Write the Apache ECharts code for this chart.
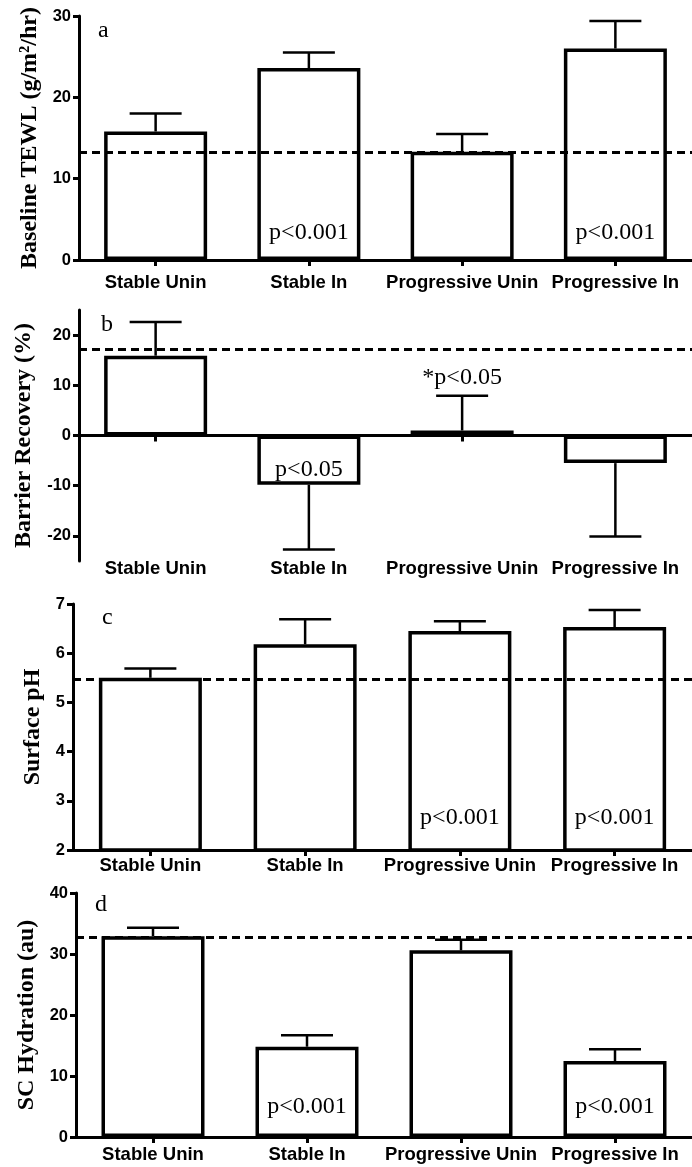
<!DOCTYPE html>
<html>
<head>
<meta charset="utf-8">
<script src="https://cdn.jsdelivr.net/npm/echarts@6/dist/echarts.min.js"></script>
<style>
html,body{margin:0;padding:0;background:#fff;}
#chart{width:692px;height:1167px;}
</style>
</head>
<body>
<div id="chart"></div>
<script>
// ---------- data ----------
const categories = ['Stable Unin', 'Stable In', 'Progressive Unin', 'Progressive In'];

const tewlMean = [15.8, 23.6, 13.3, 26.0];
const tewlErrEnd = [18.0, 25.5, 15.5, 29.4];
const tewlRef = 13.3;
const tewlTicks = [0, 10, 20, 30];
const tewlNotes = [[1, 3.4, 'p<0.001'], [3, 3.4, 'p<0.001']];

const recovMean = [15.9, -9.8, 1.0, -5.5];
const recovErrEnd = [22.6, -22.7, 7.9, -20.1];
const recovRef = 17.2;
const recovTicks = [-20, -10, 0, 10, 20];
const recovNotes = [[1, -6.9, 'p<0.05'], [1.88, 11.5, '*p<0.05']];

const phMean = [5.50, 6.18, 6.45, 6.53];
const phErrEnd = [5.69, 6.69, 6.65, 6.88];
const phRef = 5.47;
const phTicks = [2, 3, 4, 5, 6, 7];
const phNotes = [[2, 2.65, 'p<0.001'], [3, 2.65, 'p<0.001']];

const hydMean = [32.9, 14.8, 30.6, 12.45];
const hydErrEnd = [34.3, 16.7, 32.35, 14.4];
const hydRef = 32.8;
const hydTicks = [0, 10, 20, 30, 40];
const hydNotes = [[1, 4.9, 'p<0.001'], [3, 4.9, 'p<0.001']];

// ---------- layout ----------
const panels = [
  {letter: 'a', name: 'Baseline TEWL (g/m\u00B2/hr)', mean: tewlMean, err: tewlErrEnd, ref: tewlRef, ticks: tewlTicks, notes: tewlNotes,
   min: 0, max: 30, grid: {left: 79, top: 16, height: 244, right: -8}, labelMargin: 13, nameGap: 32, letterPos: [93, 14]},
  {letter: 'b', name: 'Barrier Recovery (%)', mean: recovMean, err: recovErrEnd, ref: recovRef, ticks: recovTicks, notes: recovNotes,
   min: -25, max: 25, grid: {left: 79, top: 310, height: 251, right: -8}, labelMargin: -2, split: true, nameGap: 33, letterPos: [96, 308]},
  {letter: 'c', name: 'Surface pH', mean: phMean, err: phErrEnd, ref: phRef, ticks: phTicks, notes: phNotes,
   min: 2, max: 7, grid: {left: 73, top: 604, height: 246, right: -5}, labelMargin: 6, nameGap: 25, letterPos: [97, 601]},
  {letter: 'd', name: 'SC Hydration (au)', mean: hydMean, err: hydErrEnd, ref: hydRef, ticks: hydTicks, notes: hydNotes,
   min: 0, max: 40, grid: {left: 76, top: 893, height: 244, right: -6}, labelMargin: 8, nameGap: 33, letterPos: [90, 888]}
];

const SANS = '"Liberation Sans", Arial, sans-serif';
const SERIF = '"Liberation Serif", "Times New Roman", serif';

const grids = [], xAxes = [], yAxes = [], series = [], titles = [];

panels.forEach((p, i) => {
  grids.push(Object.assign({containLabel: false}, p.grid));
  const xMainIndex = xAxes.length;
  const xLabelStyle = {interval: 0, margin: p.labelMargin, color: '#000', fontFamily: SANS, fontWeight: 'bold', fontSize: 18.5};
  xAxes.push({
    type: 'category', gridIndex: i, data: categories,
    axisLine: {show: true, onZero: !!p.split, lineStyle: {color: '#000', width: 3}},
    axisTick: {show: true, alignWithLabel: true, interval: 0, length: 6, lineStyle: {color: '#000', width: 3}},
    axisLabel: Object.assign({show: !p.split}, xLabelStyle),
    splitLine: {show: false}
  });
  if (p.split) {
    xAxes.push({
      type: 'category', gridIndex: i, data: categories, position: 'bottom',
      axisLine: {show: false, onZero: false}, axisTick: {show: false},
      axisLabel: Object.assign({show: true}, xLabelStyle),
      splitLine: {show: false}
    });
  }
  const yIndex = yAxes.length;
  yAxes.push({
    type: 'value', gridIndex: i, min: p.min, max: p.max,
    name: p.name, nameLocation: 'middle', nameGap: p.nameGap,
    nameTextStyle: {color: '#000', fontFamily: SERIF, fontWeight: 'bold', fontSize: 24},
    axisLine: {show: true, lineStyle: {color: '#000', width: 3}},
    axisTick: {show: true, length: 6, customValues: p.ticks, lineStyle: {color: '#000', width: 3}},
    axisLabel: {show: true, customValues: p.ticks, margin: 8, color: '#000', fontFamily: SANS, fontWeight: 'bold', fontSize: 16.5},
    splitLine: {show: false}
  });
  series.push({
    type: 'bar', xAxisIndex: xMainIndex, yAxisIndex: yIndex,
    data: p.mean, barWidth: 103,
    itemStyle: {color: '#fff', borderColor: '#000', borderWidth: 3.5},
    silent: true, z: 2,
    markLine: {
      silent: true, symbol: ['none', 'none'], label: {show: false},
      lineStyle: {color: '#000', type: [8, 5], width: 3},
      data: [{yAxis: p.ref}], z: 5
    }
  });
  series.push({
    type: 'custom', xAxisIndex: xMainIndex, yAxisIndex: yIndex, z: 3, silent: true,
    data: p.mean.map((m, k) => [k, m, p.err[k]]),
    encode: {x: 0, y: [1, 2]},
    renderItem: (params, api) => {
      const a = api.coord([api.value(0), api.value(1)]);
      const b = api.coord([api.value(0), api.value(2)]);
      const half = 26;
      return {type: 'group', children: [
        {type: 'line', shape: {x1: a[0], y1: a[1], x2: b[0], y2: b[1]}, style: {stroke: '#000', lineWidth: 2.5}},
        {type: 'line', shape: {x1: b[0] - half, y1: b[1], x2: b[0] + half, y2: b[1]}, style: {stroke: '#000', lineWidth: 2.5}}
      ]};
    }
  });
  series.push({
    type: 'custom', xAxisIndex: xMainIndex, yAxisIndex: yIndex, z: 6, silent: true,
    data: p.notes.map(n => [n[0], n[1], n[2]]),
    encode: {x: 0, y: 1},
    renderItem: (params, api) => {
      const c = api.coord([api.value(0), api.value(1)]);
      return {type: 'text', x: c[0], y: c[1], style: {
        text: p.notes[params.dataIndex][2], fill: '#000',
        font: '24px ' + SERIF, align: 'center', verticalAlign: 'middle'
      }};
    }
  });
  titles.push({text: p.letter, left: p.letterPos[0], top: p.letterPos[1],
    textStyle: {color: '#000', fontFamily: SERIF, fontWeight: 'normal', fontSize: 24}});
});

const chart = echarts.init(document.getElementById('chart'), null, {renderer: 'canvas'});
chart.setOption({
  backgroundColor: '#fff',
  animation: false,
  title: titles,
  grid: grids,
  xAxis: xAxes,
  yAxis: yAxes,
  series: series
});
</script>
</body>
</html>
